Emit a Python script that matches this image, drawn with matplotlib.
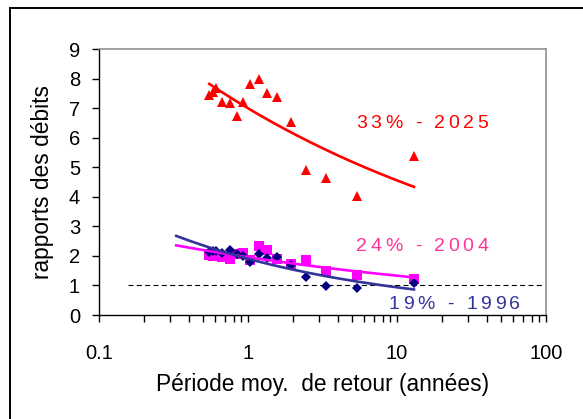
import numpy as np
import matplotlib
matplotlib.use("Agg")
import matplotlib.pyplot as plt
from matplotlib.ticker import LogLocator, FixedLocator, NullFormatter, FixedFormatter
from matplotlib.patches import Rectangle
from matplotlib.textpath import TextToPath
from matplotlib.font_manager import FontProperties

# ---- data ----
periods = [0.55, 0.585, 0.61, 0.666, 0.757, 0.848, 0.93, 1.03, 1.19, 1.35, 1.57, 1.93, 2.45, 3.34, 5.36, 13.0]
ratio_2025 = [7.43, 7.55, 7.67, 7.22, 7.18, 6.73, 7.22, 7.81, 7.97, 7.52, 7.36, 6.54, 4.90, 4.62, 4.03, 5.38]
ratio_2004 = [2.03, 2.00, 1.98, 1.95, 1.88, 2.08, 2.10, 1.87, 2.33, 2.20, 1.90, 1.73, 1.85, 1.50, 1.35, 1.22]
ratio_1996 = [2.12, 2.15, 2.18, 2.10, 2.20, 2.05, 2.00, 1.80, 2.05, 1.92, 1.95, 1.70, 1.30, 0.98, 0.92, 1.07]
labels = ["33% - 2025", "24% - 2004", "19% - 1996"]
label_pos = [(5.31, 6.34), (5.31, 2.175), (8.74, 0.20)]
forecast_start = [None, 0.33, 0.33]
ref_level = 1.0
ref_start = 0.157
x_ticks = [0.1, 1, 10, 100]
x_ticklabels = ["0.1", "1", "10", "100"]
y_ticks = list(range(0, 10))

FONT = "Liberation Sans"
plt.rcParams["font.family"] = [FONT, "DejaVu Sans"]

W, H = 583, 419
fig = plt.figure(figsize=(W / 100, H / 100), dpi=100)
L, R, B, T = 99, 546, 315, 49
ax = fig.add_axes([L / W, (H - B) / H, (R - L) / W, (B - T) / H])

# figure border
fig.patches.append(Rectangle((10 / W, -0.1), 1.2, (H - 8) / H + 0.1, transform=fig.transFigure,
                             fill=False, edgecolor="black", linewidth=1.4, zorder=0))

series = [
    (ratio_2025, "^", 7.8, "#FF0000", "#FF0000", "#FF0000"),
    (ratio_2004, "s", 6.8, "#FF00FF", "#FF00FF", "#FF3399"),
    (ratio_1996, "D", 5.3, "#000080", "#333399", "#333399"),
]

xs = np.array(periods)
for i, (ys, mk, ms, mcol, lcol, tcol) in enumerate(series):
    ys = np.array(ys)
    ax.plot(xs, ys, linestyle="none", marker=mk, markersize=ms, color=mcol,
            markeredgewidth=0, zorder=3)

# power trendlines (least squares in log-log space, as a spreadsheet does)
for i, (ys, mk, ms, mcol, lcol, tcol) in enumerate(series):
    ys = np.array(ys)
    b, lna = np.polyfit(np.log(xs), np.log(ys), 1)
    x0 = forecast_start[i] if forecast_start[i] else xs.min()
    xl = np.geomspace(x0, xs.max(), 200)
    ax.plot(xl, np.exp(lna) * xl ** b, color=lcol, linewidth=1.9, zorder=4)

ax.plot([ref_start, 100], [ref_level, ref_level], color="black", linewidth=0.8,
        linestyle=(0, (4.5, 3)), zorder=2)

# letter-spaced labels
t2p = TextToPath()
def spaced_text(x, y, s, color, size=14, extra=2.6):
    prop = FontProperties(family=FONT, size=size)
    off = 0.0
    for ch in s:
        if ch != " ":
            ax.annotate(ch, (x, y), xycoords="data", xytext=(off, 0), textcoords="offset points",
                        color=color, fontsize=size, family=FONT, ha="left", va="baseline", zorder=5)
        w, h, d = t2p.get_text_width_height_descent(ch if ch != " " else "a a", prop, ismath=False)
        if ch == " ":
            wa, _, _ = t2p.get_text_width_height_descent("aa", prop, ismath=False)
            w = w - wa
        off += w + extra

for (lx, ly), s, ser in zip(label_pos, labels, series):
    spaced_text(lx, ly, s, ser[5])

ax.set_xscale("log")
ax.set_xlim(0.1, 100)
ax.set_ylim(0, 9)
ax.xaxis.set_major_locator(FixedLocator(x_ticks))
ax.xaxis.set_major_formatter(FixedFormatter(x_ticklabels))
ax.xaxis.set_minor_locator(LogLocator(base=10, subs=np.arange(2, 10)))
ax.xaxis.set_minor_formatter(NullFormatter())
ax.set_yticks(y_ticks)
ax.tick_params(axis="x", which="major", direction="out", length=5, width=1, pad=16, labelsize=14.5)
ax.tick_params(axis="x", which="minor", direction="out", length=5, width=1)
ax.tick_params(axis="y", which="major", direction="out", length=5, width=1, pad=8.6, labelsize=14.5)

for sp in ["left", "bottom"]:
    ax.spines[sp].set_color("black")
    ax.spines[sp].set_linewidth(1.0)
for sp in ["top", "right"]:
    ax.spines[sp].set_color("#909090")
    ax.spines[sp].set_linewidth(1.2)

ax.set_ylabel("rapports des débits", fontsize=16.4)
ax.yaxis.set_label_coords(-0.1, 0.5)
fig.text((L + R) / 2 / W, (H - 391) / H, "Période moy.  de retour (années)", fontsize=16.4,
         ha="center", va="baseline")

fig.savefig("out.png", dpi=100)
